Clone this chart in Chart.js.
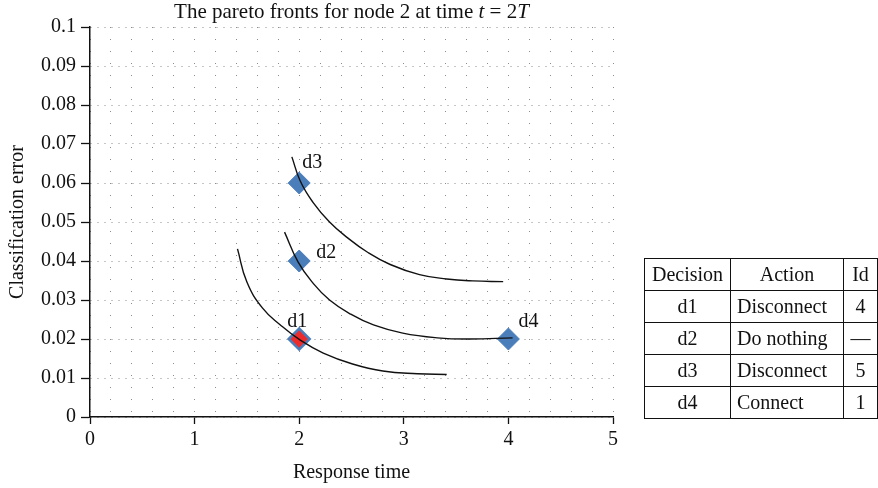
<!DOCTYPE html>
<html>
<head>
<meta charset="utf-8">
<script src="https://cdn.jsdelivr.net/npm/chart.js@4"></script>
<style>
  body { margin: 0; background: #fff; }
  #wrap { position: relative; width: 878px; height: 488px; background: #fff; }
  #title {
    position: absolute; left: 90px; width: 523px; top: -1px;
    text-align: center; font: 21px/24px "Liberation Serif", serif; color: #111;
  }
  #legend-table {
    position: absolute; left: 644px; top: 258px; width: 233px;
    border-collapse: collapse; table-layout: fixed;
    font: 20px "Liberation Serif", serif; color: #111;
  }
  #legend-table td { border: 1.5px solid #111; height: 31px; padding: 0; text-align: center; }
  #legend-table td.act { text-align: left; padding-left: 6px; }
  #legend-table tr.head td.act { text-align: center; padding-left: 0; }
</style>
</head>
<body>
<div id="wrap">
  <canvas id="chart" width="878" height="488"></canvas>
  <div id="title">The pareto fronts for node 2 at time <i>t</i> = 2<i>T</i></div>
  <table id="legend-table">
    <colgroup><col style="width:86px"><col style="width:113px"><col style="width:34px"></colgroup>
    <tbody id="legend-body"></tbody>
  </table>
</div>
<script>
'use strict';

// decisions (markers)
const decisions = ['d1', 'd2', 'd3', 'd4'];
const respTime  = [2, 2, 2, 4];
const classErr  = [0.02, 0.04, 0.06, 0.02];

// table columns
const tableHead = ['Decision', 'Action', 'Id'];
const actions   = ['Disconnect', 'Do nothing', 'Disconnect', 'Connect'];
const nodeIds   = ['4', '\u2014', '5', '1'];

// pareto fronts
const front1X = [1.41, 1.50, 1.65, 1.82, 2.01, 2.23, 2.51, 2.80, 3.13, 3.41];
const front1Y = [0.0431, 0.0346, 0.0279, 0.0236, 0.0197, 0.0164, 0.0136, 0.0118, 0.0111, 0.0109];
const front2X = [1.86, 1.99, 2.13, 2.29, 2.49, 2.71, 2.99, 3.32, 3.63, 4.04];
const front2Y = [0.0474, 0.0397, 0.0344, 0.0300, 0.0264, 0.0236, 0.0215, 0.0203, 0.0200, 0.0203];
const front3X = [1.93, 2.01, 2.13, 2.29, 2.46, 2.65, 2.87, 3.15, 3.41, 3.66, 3.95];
const front3Y = [0.0667, 0.0605, 0.0551, 0.0500, 0.0460, 0.0423, 0.0391, 0.0365, 0.0354, 0.0349, 0.0347];

// axes
const xMin = 0, xMax = 5, xMinorStep = 0.2;
const yMin = 0, yMax = 0.1, yStep = 0.01;

// --- table ---
const body = document.getElementById('legend-body');
const addRow = (cells, cls) => {
  const tr = document.createElement('tr');
  if (cls) tr.className = cls;
  cells.forEach((c, i) => {
    const td = document.createElement('td');
    if (i === 1) td.className = 'act';
    td.textContent = c;
    tr.appendChild(td);
  });
  body.appendChild(tr);
};
addRow(tableHead, 'head');
decisions.forEach((d, i) => addRow([d, actions[i], nodeIds[i]]));

// --- chart ---
const zip = (xs, ys) => xs.map((x, i) => ({ x, y: ys[i] }));
const isInt = v => Math.abs(v - Math.round(v)) < 1e-6;

const curve = (xs, ys) => ({
  data: zip(xs, ys),
  showLine: true,
  borderColor: '#111',
  borderWidth: 1.4,
  pointRadius: 0,
  tension: 0.45,
  fill: false,
});

const labelOffsets = { d1: [-12, -12], d2: [17, -3], d3: [3, -15], d4: [10, -12] };
const pointLabels = {
  id: 'pointLabels',
  afterDatasetsDraw(chart) {
    const meta = chart.getDatasetMeta(3);
    const ctx = chart.ctx;
    ctx.save();
    ctx.font = '20px "Liberation Serif", serif';
    ctx.fillStyle = '#111';
    ctx.textBaseline = 'alphabetic';
    meta.data.forEach((pt, i) => {
      const [dx, dy] = labelOffsets[decisions[i]];
      ctx.fillText(decisions[i], pt.x + dx, pt.y + dy);
    });
    ctx.restore();
  }
};

Chart.defaults.font.family = '"Liberation Serif", serif';
Chart.defaults.font.size = 20;
Chart.defaults.color = '#111';

new Chart(document.getElementById('chart').getContext('2d'), {
  type: 'scatter',
  data: {
    datasets: [
      curve(front1X, front1Y),
      curve(front2X, front2Y),
      curve(front3X, front3Y),
      {
        data: zip(respTime, classErr),
        pointStyle: 'rectRot',
        pointRadius: [10.5, 11, 11, 11],
        backgroundColor: ['#ee2b2b', '#4a7ebb', '#4a7ebb', '#4a7ebb'],
        borderColor: '#4a7ebb',
        borderWidth: [2.5, 1, 1, 1],
      },
    ]
  },
  options: {
    responsive: false,
    animation: false,
    events: [],
    layout: { padding: { left: 0, top: 27, right: 265, bottom: 0 } },
    plugins: { legend: { display: false }, tooltip: { enabled: false } },
    scales: {
      x: {
        type: 'linear', min: xMin, max: xMax,
        afterFit: s => { s.height = 71; },
        ticks: {
          stepSize: xMinorStep, autoSkip: false, padding: 4,
          callback: v => isInt(v) ? String(Math.round(v)) : '',
        },
        grid: {
          color: '#8c8c8c', lineWidth: 1,
          tickLength: 7,
          tickColor: c => isInt(c.tick.value) ? '#111' : 'rgba(0,0,0,0)',
          tickWidth: 1.3,
        },
        border: { display: true, color: '#111', width: 1.5, dash: [1, 11] },
        title: { display: true, text: 'Response time', padding: { top: 0, bottom: 3 } },
      },
      y: {
        type: 'linear', min: yMin, max: yMax,
        afterFit: s => { s.width = 90; },
        ticks: {
          stepSize: yStep, autoSkip: false, padding: 5,
          callback: v => String(+v.toFixed(2)),
        },
        grid: { color: '#8c8c8c', lineWidth: 1, tickLength: 9, tickColor: '#111', tickWidth: 1.3 },
        border: { display: true, color: '#111', width: 1.5, dash: [1, 6] },
        title: { display: true, text: 'Classification error', padding: { top: 6, bottom: 0 } },
      }
    }
  },
  plugins: [pointLabels]
});
</script>
</body>
</html>
